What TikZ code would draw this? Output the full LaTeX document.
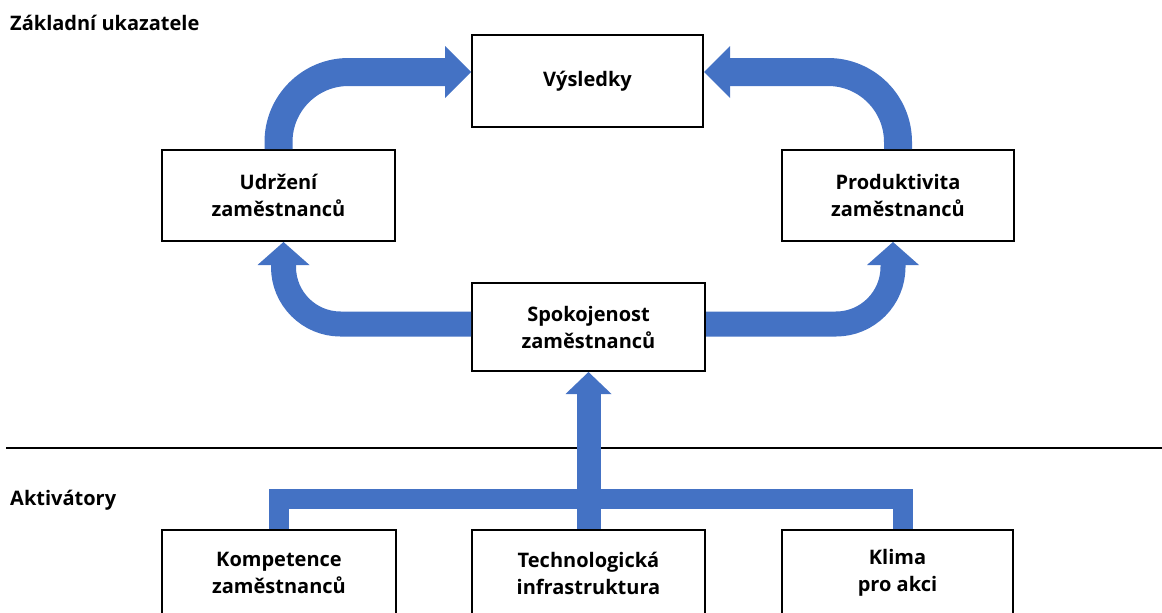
\documentclass[tikz,border=0pt]{standalone}
\usepackage{fontspec}
\setmainfont{Open Sans}
\usetikzlibrary{arrows.meta,calc}
\definecolor{flow}{HTML}{4472C4}

\begin{document}
\begin{tikzpicture}[x=1pt,y=-1pt,
  box/.style={draw=black, line width=2pt, fill=white, align=center,
    inner sep=0pt, font=\bfseries\fontsize{20}{27}\selectfont},
  label/.style={inner sep=0pt, font=\bfseries\fontsize{20}{24}\selectfont},
  bigflow/.style={draw=flow, line width=28pt, rounded corners=70pt,
    -{Triangle[length=26pt, width=52pt, line width=0pt]}},
  sideflow/.style={draw=flow, line width=25pt, rounded corners=57pt,
    -{Triangle[length=23pt, width=52pt, line width=0pt]}},
  upflow/.style={draw=flow, line width=24pt,
    -{Triangle[length=22pt, width=46pt, line width=0pt]}},
  feeder/.style={draw=flow, line width=20pt, line join=miter}]

\useasboundingbox (0,0) rectangle (1162,613);

% section captions
\node[label, anchor=base west] (capTop) at (10,30) {Základní ukazatele};
\node[label, anchor=base west] (capBottom) at (10,505) {Aktivátory};

% divider between the two sections
\coordinate (divL) at (6,448);
\coordinate (divR) at (1162,448);
\draw[line width=2pt] (divL) -- (divR);

% key indicators
\node[box, minimum width=231pt, minimum height=92pt] (vys) at (587.5,81) {Výsledky};
\node[box, minimum width=233pt, minimum height=91pt] (udr) at (278.5,195.5) {Udržení\\zaměstnanců};
\node[box, minimum width=232pt, minimum height=91pt] (prod) at (898,195.5) {Produktivita\\zaměstnanců};
\node[box, minimum width=233pt, minimum height=88pt] (spok) at (588.5,327) {Spokojenost\\zaměstnanců};

% enablers
\node[box, minimum width=234pt, minimum height=86pt] (komp) at (279,573) {Kompetence\\zaměstnanců};
\node[box, minimum width=233pt, minimum height=86pt] (tech) at (588.5,573) {Technologická\\infrastruktura};
\node[box, minimum width=231pt, minimum height=86pt] (klima) at (897.5,573) {Klima\\pro akci};

% curved flows between indicators
\draw[bigflow] (udr.north) |- ($(vys.west)+(0,-9)$);
\draw[bigflow] (prod.north) |- ($(vys.east)+(0,-9)$);
\draw[sideflow] ($(spok.west)+(0,-3)$) -| ($(udr.south)+(5,0)$);
\draw[sideflow] ($(spok.east)+(0,-3)$) -| ($(prod.south)+(-5,0)$);

% enablers feeding satisfaction
\draw[feeder] (komp.north) |- ($(tech.north)+(0,-30)$) -| ($(klima.north)+(5,0)$);
\draw[upflow] (tech.north) -- (spok.south);
\end{tikzpicture}
\end{document}
